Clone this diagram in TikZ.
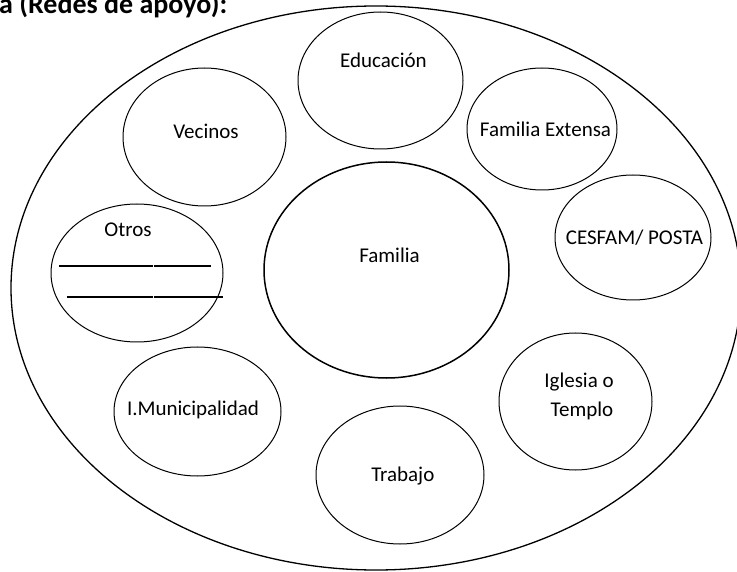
\documentclass[tikz,border=0pt]{standalone}
\usepackage{fontspec}
\setmainfont{Carlito}
\usetikzlibrary{shapes.geometric}
\begin{document}
\begin{tikzpicture}[x=1pt,y=-1pt,
  bubble/.style={draw=black, ellipse, inner sep=0pt, line width=1pt},
  lbl/.style={anchor=base, inner sep=0pt, font=\fontsize{21}{25}\selectfont},
  blank/.style={line width=1.5pt}]
\useasboundingbox (0,0) rectangle (737,572);
\clip (0,0) rectangle (737,572);

% heading
\node[anchor=base west, inner sep=0pt, font=\fontsize{28}{32}\selectfont\bfseries] (title) at (-1,13.5) {a (Redes de apoyo):};

% outer ring of the support network
\node[bubble, line width=1.3pt, minimum width=730, minimum height=564] (red) at (376,288) {};

% central circle
\node[bubble, line width=1.5pt, minimum width=245, minimum height=216] (fam) at (386.5,270) {};
\node[lbl] (famt) at (389.5,263) {Familia};

% surrounding circles
\node[bubble, minimum width=165, minimum height=137] (edu) at (380.5,80.5) {};
\node[lbl] (edut) at (383.5,68) {Educación};

\node[bubble, minimum width=150, minimum height=122] (ext) at (542,129) {};
\node[lbl] (extt) at (545.5,137) {Familia Extensa};

\node[bubble, minimum width=156, minimum height=125] (ces) at (633,237.5) {};
\node[lbl] (cest) at (634.5,245) {CESFAM/ POSTA};

\node[bubble, minimum width=163, minimum height=138] (vec) at (204.5,137) {};
\node[lbl] (vect) at (206,139) {Vecinos};

\node[bubble, minimum width=172, minimum height=138] (otr) at (137,273) {};
\node[lbl] (otrt) at (128,237) {Otros};
\coordinate (l1a) at (59,266);   \coordinate (l1b) at (152.5,266);
\coordinate (l1c) at (153.5,266); \coordinate (l1d) at (211,266);
\coordinate (l2a) at (67,297);   \coordinate (l2b) at (152.5,297);
\coordinate (l2c) at (153.5,297); \coordinate (l2d) at (223,297);
\draw[blank] (l1a) -- (l1b) (l1c) -- (l1d);
\draw[blank] (l2a) -- (l2b) (l2c) -- (l2d);

\node[bubble, minimum width=167, minimum height=129] (mun) at (197.5,411.5) {};
\node[lbl] (munt) at (193,415) {I.Municipalidad};

\node[bubble, minimum width=168, minimum height=138] (tra) at (400,475) {};
\node[lbl] (trat) at (402.8,481) {Trabajo};

\node[bubble, minimum width=153, minimum height=137] (igl) at (575.5,401.5) {};
\node[lbl] (iglt1) at (579,387) {Iglesia o};
\node[lbl] (iglt2) at (582,417) {Templo};
\end{tikzpicture}
\end{document}
